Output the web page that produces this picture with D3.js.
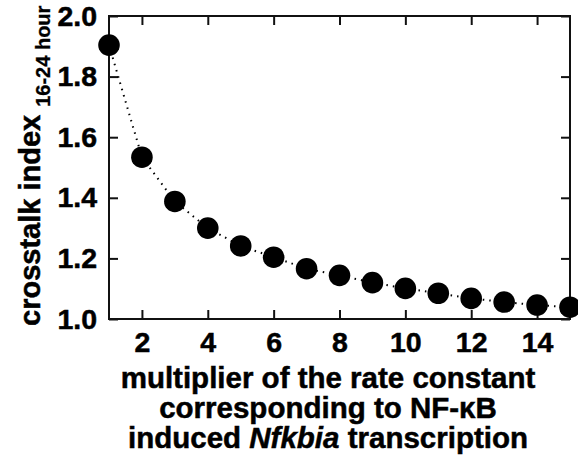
<!DOCTYPE html>
<html>
  <head>
    <meta charset="utf-8">
    <style>
      body { margin: 0; background: #fff; }
      svg { display: block; font-family: "Liberation Sans", Arial, sans-serif; font-weight: bold; }
      .lbl { stroke: #000; stroke-width: 0.5px; }
    </style>
  </head>
  <body>
    <script src="https://d3js.org/d3.v7.min.js"></script>
    <script>
      const multipliers = [1, 2, 3, 4, 5, 6, 7, 8, 9, 10, 11, 12, 13, 14, 15]
      const crosstalk = [1.904, 1.534, 1.388, 1.300, 1.241, 1.204, 1.166, 1.144, 1.120, 1.101, 1.085, 1.068, 1.056, 1.046, 1.039]
      const xTicks = [2, 4, 6, 8, 10, 12, 14]
      const yTicks = [1.0, 1.2, 1.4, 1.6, 1.8, 2.0]

      const w = 578, h = 457
      const plotLeft = 109, plotRight = 570, plotTop = 16, plotBottom = 319

      const svg = d3.select("body").append("svg")
        .attr("width", w)
        .attr("height", h)

      const x = d3.scaleLinear().domain([1, 15]).range([plotLeft, plotRight])
      const y = d3.scaleLinear().domain([1, 2]).range([plotBottom, plotTop])

      // frame ticks (inward, on all four sides)
      const tickLen = 9
      const styleAxis = g => {
        g.select(".domain").remove()
        g.selectAll(".tick line").attr("stroke", "#111").attr("stroke-width", 2)
      }

      svg.append("g")
        .attr("transform", "translate(0," + plotBottom + ")")
        .call(d3.axisBottom(x).tickValues(xTicks).tickSize(-tickLen).tickFormat(d3.format("d")))
        .call(styleAxis)
        .selectAll("text")
          .attr("class", "lbl")
          .attr("font-size", 28.5).attr("font-family", "Liberation Sans, Arial, sans-serif")
          .attr("font-weight", "bold").attr("fill", "#000").attr("dy", "0.71em")
          .attr("y", 13)

      svg.append("g")
        .attr("transform", "translate(0," + plotTop + ")")
        .call(d3.axisTop(x).tickValues(xTicks).tickSize(-tickLen).tickFormat(""))
        .call(styleAxis)

      svg.append("g")
        .attr("transform", "translate(" + plotLeft + ",0)")
        .call(d3.axisLeft(y).tickValues(yTicks).tickSize(-tickLen).tickPadding(12).tickFormat(d3.format(".1f")))
        .call(styleAxis)
        .selectAll("text")
          .attr("class", "lbl")
          .attr("x", -12)
          .attr("font-size", 28.5).attr("font-family", "Liberation Sans, Arial, sans-serif")
          .attr("font-weight", "bold").attr("fill", "#000")

      svg.append("g")
        .attr("transform", "translate(" + plotRight + ",0)")
        .call(d3.axisRight(y).tickValues(yTicks).tickSize(-tickLen).tickFormat(""))
        .call(styleAxis)

      svg.append("rect")
        .attr("x", plotLeft).attr("y", plotTop)
        .attr("width", plotRight - plotLeft).attr("height", plotBottom - plotTop)
        .attr("fill", "none").attr("stroke", "#111").attr("stroke-width", 2)

      // dotted connecting line
      const pts = multipliers.map((m, i) => [m, crosstalk[i]])
      svg.append("path")
        .datum(pts)
        .attr("fill", "none")
        .attr("stroke", "#000")
        .attr("stroke-width", 2)
        .attr("stroke-dasharray", "1.5,5")
        .attr("d", d3.line().x(d => x(d[0])).y(d => y(d[1])))

      svg.selectAll("circle.pt")
        .data(pts)
        .enter()
        .append("circle")
          .attr("class", "pt")
          .attr("cx", d => x(d[0]))
          .attr("cy", d => y(d[1]))
          .attr("r", 10.8)
          .attr("fill", "#000")

      // y label with subscript
      const yl = svg.append("text")
        .attr("class", "lbl")
        .attr("transform", "translate(40,326) rotate(-90)")
        .attr("font-size", 29)
        .attr("fill", "#000")
      yl.append("tspan").text("crosstalk index ")
      yl.append("tspan").attr("font-size", 20).attr("dy", 10).style("stroke-width", "0.3px").text("16-24 hour")

      // x label, three lines
      const xl = svg.append("text")
        .attr("class", "lbl")
        .attr("text-anchor", "middle")
        .attr("font-size", 29.5)
        .attr("fill", "#000")
      xl.append("tspan").attr("x", 328).attr("y", 388).text("multiplier of the rate constant")
      xl.append("tspan").attr("x", 328).attr("y", 418).text("corresponding to NF-\u03baB")
      const l3 = xl.append("tspan").attr("x", 328).attr("y", 448)
      l3.append("tspan").text("induced ")
      l3.append("tspan").attr("font-style", "italic").text("Nfkbia")
      l3.append("tspan").text(" transcription")
    </script>
  </body>
</html>
